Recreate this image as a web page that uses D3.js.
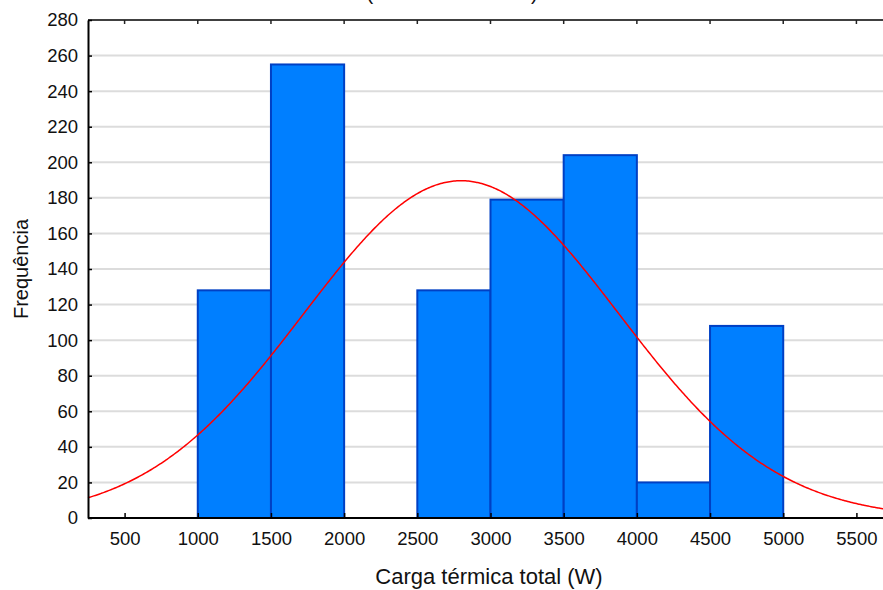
<!DOCTYPE html>
<html>
<head>
<meta charset="utf-8">
<script src="https://cdn.jsdelivr.net/npm/d3@7"></script>
<style>
  html, body { margin: 0; padding: 0; background: #fff; }
  svg { display: block; font-family: "Liberation Sans", Arial, sans-serif; }
</style>
</head>
<body>
<svg id="chart" width="883" height="590"></svg>
<script>
// Histogram bins (lower edge, upper edge) and frequencies
const binStarts = [1000, 1500, 2000, 2500, 3000, 3500, 4000, 4500];
const binEnds   = [1500, 2000, 2500, 3000, 3500, 4000, 4500, 5000];
const counts    = [128, 255, 0, 128, 179, 204, 20, 108];

// Axis ticks
const xTicks = [500, 1000, 1500, 2000, 2500, 3000, 3500, 4000, 4500, 5000, 5500];
const yTicks = [0, 20, 40, 60, 80, 100, 120, 140, 160, 180, 200, 220, 240, 260, 280];

// Fitted normal curve parameters
const fitMean = 2800;
const fitSd = 1075;
const binWidth = 500;

const svg = d3.select("#chart");
const margin = { left: 88, top: 20, bottom: 72 };
const W = 883, H = 590;
const plotBottom = H - margin.bottom;

const x = d3.scaleLinear().domain([250, 5750]).range([margin.left, 893]);
const y = d3.scaleLinear().domain([0, 280]).range([plotBottom, margin.top]);

// Title (second line, running off the top edge)
svg.append("text")
  .attr("x", 452).attr("y", 0)
  .attr("text-anchor", "middle")
  .attr("font-size", 20)
  .attr("fill", "#111")
  .text("(Dados 10v*1022c)");

// Horizontal grid lines
svg.append("g").selectAll("line")
  .data(yTicks.filter(t => t > 0 && t < 280))
  .join("line")
  .attr("x1", margin.left).attr("x2", W)
  .attr("y1", d => y(d)).attr("y2", d => y(d))
  .attr("stroke", "#dcdcdc").attr("stroke-width", 2);

// Bars
const bins = binStarts.map((s, i) => ({ x0: s, x1: binEnds[i], n: counts[i] }));
svg.append("g").selectAll("rect")
  .data(bins.filter(b => b.n > 0))
  .join("rect")
  .attr("x", d => x(d.x0))
  .attr("y", d => y(d.n))
  .attr("width", d => x(d.x1) - x(d.x0))
  .attr("height", d => y(0) - y(d.n))
  .attr("fill", "#007fff")
  .attr("stroke", "#0040c4")
  .attr("stroke-width", 2);

// Normal curve
const total = d3.sum(counts);
const normal = v => total * binWidth / (fitSd * Math.sqrt(2 * Math.PI)) *
  Math.exp(-((v - fitMean) ** 2) / (2 * fitSd * fitSd));
const curvePts = d3.range(250, 5751, 10).map(v => [v, normal(v)]);
svg.append("path")
  .datum(curvePts)
  .attr("fill", "none")
  .attr("stroke", "#ff0000")
  .attr("stroke-width", 1.5)
  .attr("d", d3.line().x(d => x(d[0])).y(d => y(d[1])).curve(d3.curveBasis));

// Top frame
svg.append("line")
  .attr("x1", margin.left).attr("x2", W)
  .attr("y1", margin.top).attr("y2", margin.top)
  .attr("stroke", "#404040").attr("stroke-width", 2);
svg.append("g").selectAll("line")
  .data(xTicks)
  .join("line")
  .attr("x1", d => x(d)).attr("x2", d => x(d))
  .attr("y1", margin.top).attr("y2", margin.top + 4)
  .attr("stroke", "#222").attr("stroke-width", 1.5);

// X axis
const xAxis = d3.axisBottom(x).tickValues(xTicks).tickFormat(d3.format("d"))
  .tickSizeInner(-5).tickSizeOuter(0).tickPadding(14);
const gx = svg.append("g").attr("transform", `translate(0,${plotBottom})`).call(xAxis);
gx.select(".domain").attr("stroke", "#000").attr("stroke-width", 2)
  .attr("d", `M${margin.left},0H${W}`);
gx.selectAll(".tick line").attr("stroke", "#000").attr("stroke-width", 1.5);
gx.selectAll(".tick text").attr("font-size", 18.5).attr("fill", "#111")
  .attr("font-family", "Liberation Sans, Arial, sans-serif");

// Y axis
const yAxis = d3.axisLeft(y).tickValues(yTicks).tickFormat(d3.format("d"))
  .tickSizeInner(-4).tickSizeOuter(0).tickPadding(10);
const gy = svg.append("g").attr("transform", `translate(${margin.left},0)`).call(yAxis);
gy.select(".domain").attr("stroke", "#000").attr("stroke-width", 2);
gy.selectAll(".tick line").attr("stroke", "#000").attr("stroke-width", 1.5);
gy.selectAll(".tick text").attr("font-size", 18.5).attr("fill", "#111")
  .attr("font-family", "Liberation Sans, Arial, sans-serif");

// Axis titles
svg.append("text")
  .attr("x", 489).attr("y", 584)
  .attr("text-anchor", "middle")
  .attr("font-size", 22)
  .attr("fill", "#111")
  .text("Carga térmica total (W)");

svg.append("text")
  .attr("transform", `translate(28,${(margin.top + plotBottom) / 2}) rotate(-90)`)
  .attr("text-anchor", "middle")
  .attr("font-size", 20)
  .attr("fill", "#111")
  .text("Frequência");
</script>
</body>
</html>
